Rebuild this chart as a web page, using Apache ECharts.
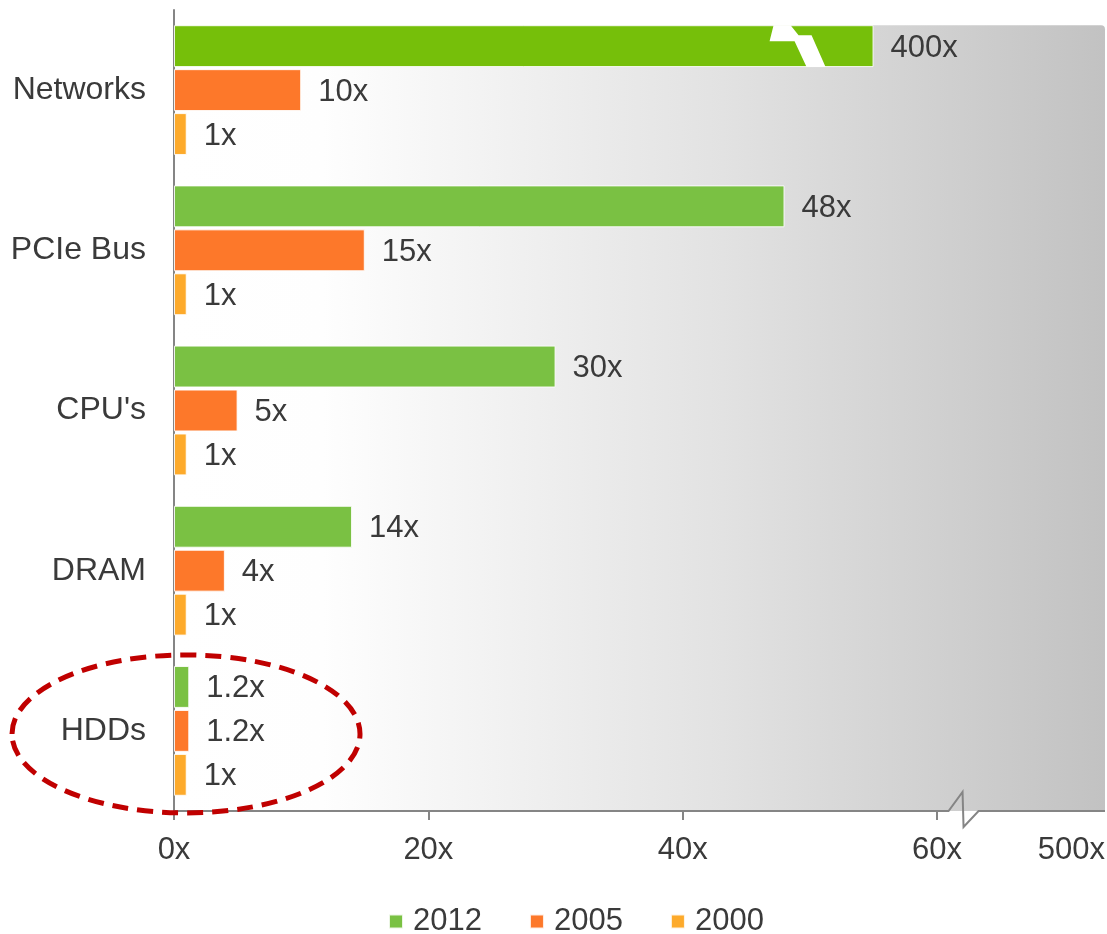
<!DOCTYPE html>
<html>
<head>
<meta charset="utf-8">
<script src="https://cdn.jsdelivr.net/npm/echarts@6/dist/echarts.min.js"></script>
<style>
  html, body { margin: 0; padding: 0; background: #ffffff; }
  #chart { width: 1107px; height: 934px; }
</style>
</head>
<body>
<div id="chart"></div>
<script>
// Bandwidth growth relative to the year 2000
const categories = ['Networks', 'PCIe Bus', "CPU's", 'DRAM', 'HDDs'];
const seriesNames = ['2012', '2005', '2000'];
const values2012 = [400, 48, 30, 14, 1.2];
const values2005 = [10, 15, 5, 4, 1.2];
const values2000 = [1, 1, 1, 1, 1];
const xTickValues = [0, 20, 40, 60];
const xTickLabels = ['0x', '20x', '40x', '60x'];
const axisEndLabel = '500x';

const seriesValues = [values2012, values2005, values2000];
const seriesColors = ['#7ac143', '#fd782a', '#fdaa2b'];
const overflowColor = '#76bf0a';

const AXIS_MAX = 73.2;       // scale end, shown as the broken "500x" end
const AXIS_BREAK_AT = 62;    // zigzag in the value axis line
const BAR_CAP = 55;          // bars longer than the scale are drawn broken here
const BAR_BREAK_MARK = 49.5; // where the break symbol sits on a capped bar

const TEXT = '#3a3a3a';
const AXIS_GRAY = '#858585';
const FONT = 'Liberation Sans, Arial, sans-serif';
const FS = 31;

const chart = echarts.init(document.getElementById('chart'), null, { renderer: 'canvas' });

const fmt = v => (Math.round(v * 10) / 10).toString() + 'x';

const series = seriesNames.map((name, si) => ({
  name,
  type: 'bar',
  barCategoryGap: '19%',
  barGap: '5%',
  itemStyle: { color: seriesColors[si], borderColor: 'rgba(255,255,255,0.85)', borderWidth: 1 },
  label: {
    show: true,
    position: 'right',
    distance: 17,
    offset: [0, 2],
    fontSize: FS,
    fontFamily: FONT,
    color: TEXT,
    formatter: p => fmt(seriesValues[si][p.dataIndex])
  },
  data: seriesValues[si].map(v => v > BAR_CAP
    ? { value: BAR_CAP, itemStyle: { color: overflowColor } }
    : { value: v })
}));

chart.setOption({
  animation: false,
  textStyle: { fontFamily: FONT },
  grid: { left: 174, top: 10, right: 2, bottom: 123, containLabel: false, outerBoundsMode: 'none' },
  legend: {
    data: seriesNames,
    left: 383,
    top: 901,
    icon: 'rect',
    itemWidth: 14,
    itemHeight: 14,
    itemGap: 47,
    textStyle: { fontSize: FS, color: TEXT, fontFamily: FONT, padding: [0, 0, 0, 5] }
  },
  xAxis: {
    type: 'value',
    min: 0,
    max: AXIS_MAX,
    interval: 20,
    splitLine: { show: false },
    axisLine: { show: false },
    axisTick: {
      show: true,
      customValues: xTickValues,
      length: 9,
      lineStyle: { color: AXIS_GRAY, width: 2 }
    },
    axisLabel: {
      customValues: xTickValues.concat([AXIS_MAX]),
      alignMaxLabel: 'right',
      margin: 24,
      fontSize: FS,
      fontFamily: FONT,
      color: TEXT,
      formatter: v => {
        const i = xTickValues.indexOf(v);
        return i >= 0 ? xTickLabels[i] : axisEndLabel;
      }
    }
  },
  yAxis: {
    type: 'category',
    inverse: true,
    data: categories,
    axisLine: { show: true, lineStyle: { color: AXIS_GRAY, width: 2 } },
    axisTick: { show: false },
    axisLabel: { margin: 28, fontSize: 32, fontFamily: FONT, color: TEXT, padding: [5, 0, 0, 0] }
  },
  series
});

// Decorations placed from the chart's own scales
const px = (x, cat) => chart.convertToPixel({ xAxisIndex: 0, yAxisIndex: 0 }, [x, cat]);
const gridRect = chart.getModel().getComponent('grid').coordinateSystem.getRect();
const firstBar = chart.getModel().getSeriesByIndex(0).getData().getItemLayout(0);
const x0 = px(0, 0)[0];
const xEnd = px(AXIS_MAX, 0)[0];
const axisY = gridRect.y + gridRect.height;
const plotTop = firstBar.y;
const xb = px(AXIS_BREAK_AT, 0)[0];

const graphics = [];

// shaded plot background
graphics.push({
  type: 'rect',
  z: -10,
  shape: { x: x0, y: plotTop, width: xEnd - x0, height: axisY - plotTop, r: [0, 4, 0, 0] },
  style: {
    fill: new echarts.graphic.LinearGradient(0, 0, 1, 0, [
      { offset: 0, color: '#ffffff' },
      { offset: 0.16, color: '#fefefe' },
      { offset: 0.59, color: '#e2e2e2' },
      { offset: 1, color: '#c2c2c2' }
    ])
  },
  silent: true
});

// value axis line with a break
graphics.push({
  type: 'polyline',
  z: 50,
  shape: {
    points: [
      [x0, axisY], [xb - 14, axisY], [xb, axisY - 19], [xb + 1, axisY + 16],
      [xb + 16, axisY], [xEnd, axisY]
    ]
  },
  style: { stroke: AXIS_GRAY, lineWidth: 2, fill: null },
  silent: true
});

// break symbols on capped bars
seriesValues.forEach((vals, si) => {
  vals.forEach((v, di) => {
    if (v <= BAR_CAP) return;
    const lay = chart.getModel().getSeriesByIndex(si).getData().getItemLayout(di);
    const cx = px(BAR_BREAK_MARK, di)[0];
    const t = lay.y, h = lay.height;
    const f = k => t + h * k;
    graphics.push({
      type: 'polygon',
      z: 60,
      shape: {
        points: [
          [cx - 30, f(0)], [cx - 13, f(0)], [cx - 5, f(0.24)], [cx + 8, f(0.24)],
          [cx + 22, f(1)], [cx + 3, f(1)], [cx - 9, f(0.38)], [cx - 34, f(0.38)]
        ]
      },
      style: { fill: '#ffffff' },
      silent: true
    });
  });
});

// highlight ring around the HDDs group
const hdd = px(0, categories.length - 1);
graphics.push({
  type: 'ellipse',
  z: 100,
  shape: { cx: hdd[0] + 12, cy: hdd[1] + 3, rx: 174, ry: 79 },
  style: { fill: null, stroke: '#c00000', lineWidth: 5, lineDash: [16, 9] },
  silent: true
});

chart.setOption({ graphic: graphics });
</script>
</body>
</html>
